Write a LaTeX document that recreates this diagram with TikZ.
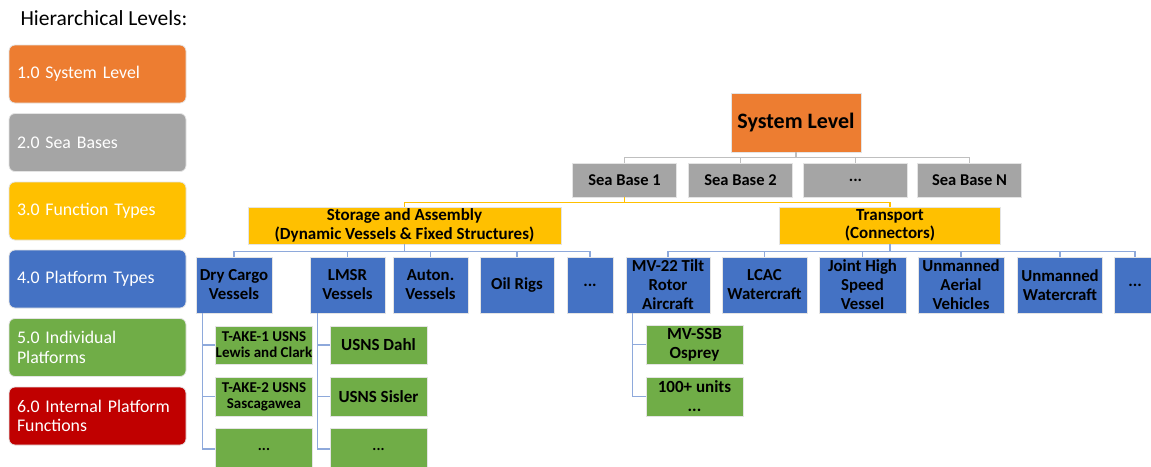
\documentclass[tikz,border=0pt]{standalone}
\usepackage{fontspec}
\setmainfont{Carlito}
\definecolor{orng}{HTML}{ED7D31}
\definecolor{gry}{HTML}{A5A5A5}
\definecolor{ylw}{HTML}{FFC000}
\definecolor{blu}{HTML}{4472C4}
\definecolor{grn}{HTML}{70AD47}
\definecolor{rd}{HTML}{C00000}
\definecolor{bdr}{HTML}{E4E4E4}
\definecolor{lnblu}{HTML}{8EA9DB}
\definecolor{lngry}{HTML}{BFBFBF}
\tikzset{box/.style   = {rectangle, draw=bdr, line width=0.8pt, inner sep=0pt},
         lvl/.style   = {rectangle, rounded corners=6pt, fill=#1, draw=bdr, line width=0.8pt,
                         minimum height=58pt, text width=161pt, inner xsep=8pt, inner ysep=0pt,
                         align=left, text=white, font=\fontsize{17.8}{19.5}\selectfont},
         sys/.style   = {box, fill=orng, minimum width=130pt, minimum height=59pt,
                         font=\bfseries\fontsize{22}{26}\selectfont},
         seab/.style  = {box, fill=gry, minimum width=104pt, minimum height=34pt,
                         font=\bfseries\fontsize{16.5}{19}\selectfont},
         func/.style  = {box, fill=ylw, minimum height=37pt, align=center,
                         font=\bfseries\fontsize{17}{18.5}\selectfont},
         plat/.style  = {box, fill=blu, minimum height=56pt, align=center,
                         font=\bfseries\fontsize{16.8}{19}\selectfont},
         indiv/.style = {box, fill=grn, minimum width=97pt, align=center,
                         font=\bfseries\fontsize{15}{16}\selectfont},
         big/.style   = {font=\bfseries\fontsize{17}{19}\selectfont},
         gline/.style = {draw=lngry, line width=1.3pt},
         yline/.style = {draw=ylw, line width=1.3pt},
         bline/.style = {draw=lnblu, line width=1.3pt}}
\begin{document}
\begin{tikzpicture}[x=1pt, y=-1pt]
    \useasboundingbox (0,0) rectangle (1151,466);
    % legend
    \node[anchor=base west, font=\fontsize{21.5}{24}\selectfont] (title) at (17,25) {Hierarchical Levels:};
    \node[lvl=orng] (l1) at (97.5,74)    {1.0 System Level};
    \node[lvl=gry]  (l2) at (97.5,142.5) {2.0 Sea Bases};
    \node[lvl=ylw]  (l3) at (97.5,211)   {3.0 Function Types};
    \node[lvl=blu]  (l4) at (97.5,279)   {4.0 Platform Types};
    \node[lvl=grn]  (l5) at (97.5,347.5) {5.0 Individual\\Platforms};
    \node[lvl=rd]   (l6) at (97.5,416)   {6.0 Internal Platform\\Functions};
    % levels 1 and 2
    \node[sys] (sys) at (796,122.5) {System Level};
    \node[seab] (sb1) at (624.5,180) {Sea Base 1};
    \node[seab] (sb2) at (740.5,180) {Sea Base 2};
    \node[seab] (sbd) at (855.5,180) {...};
    \node[seab] (sbn) at (969.5,180) {Sea Base N};
    % level 3
    \node[func, minimum width=313pt] (stor)  at (404.5,225.5) {Storage and Assembly\\(Dynamic Vessels \& Fixed Structures)};
    \node[func, minimum width=221pt] (trans) at (890,225.5)   {Transport\\(Connectors)};
    % level 4
    \node[plat, minimum width=76pt] (dcv)   at (234,285)   {Dry Cargo\\Vessels};
    \node[plat, minimum width=75pt] (lmsr)  at (347.5,285) {LMSR\\Vessels};
    \node[plat, minimum width=75pt] (auton) at (430.5,285) {Auton.\\Vessels};
    \node[plat, minimum width=74pt] (oil)   at (517,285)   {Oil Rigs};
    \node[plat, minimum width=46pt] (sdots) at (590,285)   {...};
    \node[plat, minimum width=84pt] (mv22)  at (668,285)   {MV-22 Tilt\\Rotor\\Aircraft};
    \node[plat, minimum width=85pt] (lcac)  at (764.5,285) {LCAC\\Watercraft};
    \node[plat, minimum width=87pt] (jhsv)  at (862.5,285) {Joint High\\Speed\\Vessel};
    \node[plat, minimum width=86pt] (uav)   at (961,285)   {Unmanned\\Aerial\\Vehicles};
    \node[plat, minimum width=85pt] (uwc)   at (1060,285)  {Unmanned\\Watercraft};
    \node[plat, minimum width=42pt] (tdots) at (1135,285)  {...};
    % level 5
    \node[indiv, minimum height=38pt] (lc)    at (264,345)     {T-AKE-1 USNS\\Lewis and Clark};
    \node[indiv, minimum height=39pt] (sas)   at (264,396.5)   {T-AKE-2 USNS\\Sascagawea};
    \node[indiv, minimum height=42pt] (dcvd)  at (264,449)     {...};
    \node[indiv, big, minimum height=38pt] (dahl)  at (378.5,345)   {USNS Dahl};
    \node[indiv, big, minimum height=39pt] (sisl)  at (378.5,396.5) {USNS Sisler};
    \node[indiv, minimum height=42pt] (lmsrd) at (378.5,449)   {...};
    \node[indiv, big, minimum height=39pt] (osp)   at (694.5,344.5) {MV-SSB\\Osprey};
    \node[indiv, big, minimum height=39pt] (units) at (694.5,396.5) {100+ units\\...};
    % connectors
    \foreach \n in {sb1,sb2,sbd,sbn}
        \draw[gline] (sys.south) -- ++(0,5) -| (\n.north);
    \foreach \n in {stor,trans}
        \draw[yline] (sb1.south) -- ++(0,5) -| (\n.north);
    \foreach \n in {dcv,lmsr,auton,oil,sdots}
        \draw[bline] (stor.south) -- ++(0,7) -| (\n.north);
    \foreach \n in {mv22,lcac,jhsv,uav,uwc,tdots}
        \draw[bline] (trans.south) -- ++(0,7) -| (\n.north);
    \draw[bline] (dcv.south west) ++(7,0) coordinate (dcvs) |- (lc.west);
    \foreach \n in {sas,dcvd}
        \draw[bline] (dcvs) |- (\n.west);
    \draw[bline] (lmsr.south west) ++(8,0) coordinate (lmsrs) |- (dahl.west);
    \foreach \n in {sisl,lmsrd}
        \draw[bline] (lmsrs) |- (\n.west);
    \draw[bline] (mv22.south west) ++(7,0) coordinate (mv22s) |- (osp.west);
    \draw[bline] (mv22s) |- (units.west);
\end{tikzpicture}
\end{document}
